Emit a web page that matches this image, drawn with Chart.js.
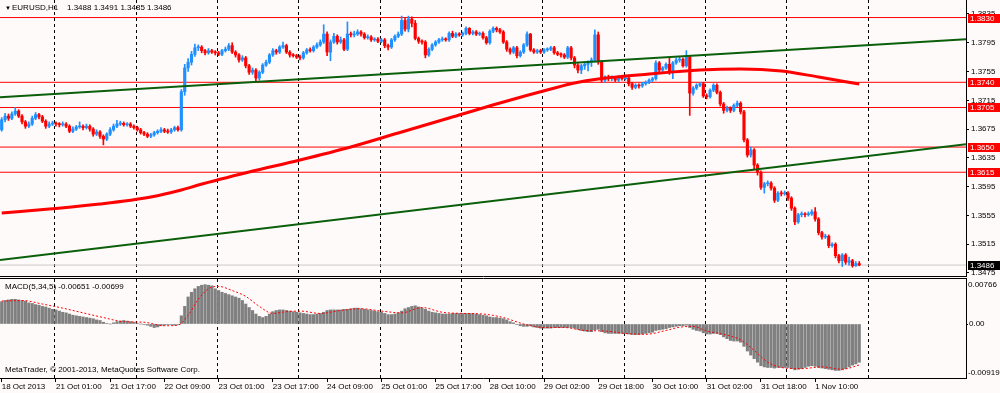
<!DOCTYPE html>
<html><head><meta charset="utf-8">
<script src="https://cdn.jsdelivr.net/npm/chart.js@4.4.0/dist/chart.umd.min.js"></script>
<style>
html,body{margin:0;padding:0;background:#fffafa;}
#wrap{position:relative;width:1000px;height:393px;overflow:hidden;background:#fffafa;font-family:'Liberation Sans',Arial,sans-serif;}
canvas{position:absolute;left:0;}
#c1{top:0}
#c2{top:277px}
.lbl{position:absolute;font-size:8px;color:#000;white-space:pre;line-height:10px;}
</style></head><body>
<div id="wrap">
<canvas id="c1" width="1000" height="277"></canvas>
<canvas id="c2" width="1000" height="116"></canvas>
<div class="lbl" style="left:5px;top:4px;font-size:6px;line-height:8px">▼</div>
<div class="lbl" style="left:12px;top:3px">EURUSD,H1</div>
<div class="lbl" style="left:67px;top:3px">1.3488 1.3491 1.3485 1.3486</div>
<div class="lbl" style="left:5px;top:282px">MACD(5,34,5) -0.00651 -0.00699</div>
<div class="lbl" style="left:5px;top:365px">MetaTrader, © 2001-2013, MetaQuotes Software Corp.</div>
</div>
<script>
// ---------- DATA ----------
const xTickBars = [0,16,32,48,64,80,96,112,128,144,160,176,192,208,224,240];
const xTickLabels = ["18 Oct 2013","21 Oct 01:00","21 Oct 17:00","22 Oct 09:00","23 Oct 01:00","23 Oct 17:00","24 Oct 09:00","25 Oct 01:00","25 Oct 17:00","28 Oct 10:00","29 Oct 02:00","29 Oct 18:00","30 Oct 10:00","31 Oct 02:00","31 Oct 18:00","1 Nov 10:00"];
const gridBars = [15.5,39.5,63.5,87.5,111.5,135.5,159.5,183.5,207.5,231.5,255.5];
const priceTicks = [1.3475,1.3515,1.3555,1.3595,1.3635,1.3675,1.3715,1.3755,1.3795,1.3835];
const levelPrices = [1.3830,1.3740,1.3705,1.3650,1.3615];
const bidPrice = 1.3486;
const upperTrend = [[-0.5,1.37191],[284.5,1.37998]];
const lowerTrend = [[-0.5,1.34930],[284.5,1.36540]];
const maPoints = [[0,1.35583],[14,1.35639],[29,1.35708],[44,1.35806],[53,1.35903],[58,1.35972],[73,1.36153],[88,1.36320],[103,1.36501],[117,1.36695],[132,1.36904],[147,1.37113],[162,1.37307],[169,1.37390],[176,1.37446],[191,1.37515],[206,1.37571],[218,1.37585],[230,1.37557],[241,1.37474],[253,1.37376]];

const opens = [
1.3674,1.3688,1.3693,1.3690,1.3696,1.3700,1.3693,1.3685,1.3679,1.3682,
1.3690,1.3695,1.3692,1.3686,1.3679,1.3682,1.3683,1.3682,1.3681,1.3682,
1.3679,1.3672,1.3675,1.3678,1.3679,1.3677,1.3679,1.3675,1.3668,1.3671,
1.3665,1.3661,1.3668,1.3674,1.3679,1.3682,1.3683,1.3681,1.3682,1.3679,
1.3677,1.3674,1.3670,1.3668,1.3665,1.3667,1.3670,1.3672,1.3674,1.3672,
1.3671,1.3674,1.3677,1.3674,1.3727,1.3760,1.3768,1.3779,1.3788,1.3789,
1.3784,1.3781,1.3784,1.3782,1.3781,1.3779,1.3784,1.3786,1.3791,1.3782,
1.3778,1.3771,1.3774,1.3763,1.3754,1.3757,1.3746,1.3754,1.3764,1.3768,
1.3778,1.3784,1.3782,1.3789,1.3791,1.3782,1.3778,1.3777,1.3775,1.3774,
1.3781,1.3785,1.3784,1.3789,1.3792,1.3796,1.3807,1.3782,1.3796,1.3804,
1.3796,1.3799,1.3786,1.3807,1.3806,1.3807,1.3810,1.3807,1.3802,1.3803,
1.3799,1.3800,1.3797,1.3799,1.3791,1.3789,1.3799,1.3804,1.3807,1.3826,
1.3814,1.3828,1.3822,1.3801,1.3797,1.3796,1.3778,1.3786,1.3792,1.3796,
1.3799,1.3800,1.3799,1.3808,1.3804,1.3807,1.3806,1.3808,1.3815,1.3808,
1.3810,1.3807,1.3808,1.3802,1.3795,1.3811,1.3815,1.3813,1.3810,1.3796,
1.3786,1.3782,1.3788,1.3777,1.3782,1.3792,1.3807,1.3785,1.3782,1.3784,
1.3782,1.3785,1.3786,1.3788,1.3781,1.3779,1.3778,1.3775,1.3788,1.3774,
1.3764,1.3757,1.3763,1.3765,1.3768,1.3771,1.3806,1.3768,1.3743,1.3747,
1.3745,1.3746,1.3743,1.3746,1.3745,1.3746,1.3738,1.3733,1.3736,1.3735,
1.3738,1.3740,1.3743,1.3745,1.3767,1.3757,1.3760,1.3765,1.3754,1.3767,
1.3771,1.3772,1.3763,1.3775,1.3725,1.3732,1.3736,1.3738,1.3721,1.3720,
1.3729,1.3736,1.3726,1.3710,1.3701,1.3704,1.3701,1.3708,1.3711,1.3699,
1.3660,1.3639,1.3646,1.3625,1.3615,1.3594,1.3599,1.3600,1.3593,1.3576,
1.3586,1.3585,1.3586,1.3579,1.3565,1.3546,1.3556,1.3557,1.3556,1.3557,
1.3560,1.3550,1.3531,1.3525,1.3526,1.3513,1.3515,1.3499,1.3492,1.3500,
1.3490,1.3492,1.3485,1.3488];
const highs = [
1.3691,1.3697,1.3696,1.3699,1.3705,1.3702,1.3695,1.3687,1.3685,1.3693,
1.3698,1.3697,1.3694,1.3688,1.3685,1.3686,1.3685,1.3684,1.3685,1.3684,
1.3681,1.3678,1.3680,1.3685,1.3681,1.3682,1.3681,1.3677,1.3674,1.3673,
1.3667,1.3670,1.3677,1.3682,1.3687,1.3686,1.3685,1.3684,1.3684,1.3681,
1.3679,1.3676,1.3672,1.3670,1.3669,1.3672,1.3674,1.3677,1.3676,1.3675,
1.3676,1.3679,1.3679,1.3730,1.3765,1.3773,1.3783,1.3793,1.3792,1.3791,
1.3786,1.3787,1.3786,1.3784,1.3783,1.3786,1.3789,1.3794,1.3795,1.3784,
1.3780,1.3777,1.3776,1.3765,1.3760,1.3759,1.3756,1.3766,1.3771,1.3780,
1.3787,1.3786,1.3791,1.3796,1.3793,1.3784,1.3780,1.3779,1.3778,1.3783,
1.3787,1.3788,1.3791,1.3795,1.3799,1.3820,1.3810,1.3799,1.3808,1.3806,
1.3803,1.3801,1.3824,1.3810,1.3811,1.3813,1.3812,1.3809,1.3806,1.3805,
1.3802,1.3802,1.3801,1.3801,1.3793,1.3801,1.3806,1.3810,1.3832,1.3829,
1.3832,1.3831,1.3826,1.3803,1.3799,1.3798,1.3788,1.3794,1.3798,1.3801,
1.3803,1.3802,1.3810,1.3811,1.3809,1.3809,1.3810,1.3817,1.3816,1.3812,
1.3812,1.3810,1.3810,1.3804,1.3813,1.3817,1.3817,1.3815,1.3812,1.3798,
1.3788,1.3790,1.3790,1.3784,1.3794,1.3810,1.3808,1.3787,1.3786,1.3786,
1.3787,1.3788,1.3790,1.3790,1.3783,1.3781,1.3780,1.3790,1.3790,1.3776,
1.3766,1.3765,1.3768,1.3770,1.3774,1.3813,1.3810,1.3770,1.3749,1.3750,
1.3749,1.3748,1.3749,1.3749,1.3750,1.3748,1.3740,1.3738,1.3738,1.3740,
1.3742,1.3745,1.3747,1.3770,1.3769,1.3762,1.3767,1.3774,1.3769,1.3774,
1.3775,1.3774,1.3784,1.3777,1.3734,1.3738,1.3740,1.3740,1.3724,1.3731,
1.3738,1.3738,1.3728,1.3712,1.3707,1.3706,1.3710,1.3714,1.3713,1.3701,
1.3662,1.3650,1.3648,1.3627,1.3617,1.3601,1.3603,1.3602,1.3595,1.3588,
1.3589,1.3589,1.3588,1.3581,1.3567,1.3558,1.3560,1.3559,1.3560,1.3563,
1.3566,1.3552,1.3533,1.3529,1.3528,1.3517,1.3517,1.3501,1.3502,1.3502,
1.3497,1.3494,1.3491,1.3491];
const lows = [
1.3672,1.3685,1.3687,1.3688,1.3694,1.3691,1.3682,1.3676,1.3677,1.3680,
1.3688,1.3689,1.3684,1.3676,1.3677,1.3680,1.3679,1.3678,1.3679,1.3677,
1.3670,1.3670,1.3673,1.3676,1.3674,1.3675,1.3672,1.3665,1.3666,1.3662,
1.3653,1.3659,1.3666,1.3672,1.3677,1.3680,1.3679,1.3679,1.3677,1.3675,
1.3672,1.3668,1.3666,1.3663,1.3663,1.3665,1.3668,1.3670,1.3670,1.3669,
1.3669,1.3672,1.3672,1.3672,1.3722,1.3755,1.3764,1.3776,1.3784,1.3781,
1.3778,1.3779,1.3780,1.3778,1.3777,1.3777,1.3782,1.3784,1.3780,1.3775,
1.3768,1.3769,1.3760,1.3751,1.3751,1.3741,1.3743,1.3752,1.3762,1.3766,
1.3776,1.3779,1.3780,1.3787,1.3780,1.3775,1.3775,1.3773,1.3771,1.3772,
1.3779,1.3782,1.3782,1.3787,1.3790,1.3794,1.3777,1.3770,1.3794,1.3793,
1.3794,1.3784,1.3784,1.3803,1.3803,1.3805,1.3804,1.3800,1.3800,1.3797,
1.3797,1.3795,1.3795,1.3788,1.3785,1.3787,1.3797,1.3802,1.3805,1.3811,
1.3810,1.3817,1.3799,1.3794,1.3793,1.3774,1.3776,1.3784,1.3790,1.3794,
1.3797,1.3797,1.3797,1.3802,1.3802,1.3804,1.3804,1.3806,1.3806,1.3806,
1.3805,1.3805,1.3800,1.3793,1.3793,1.3809,1.3810,1.3808,1.3794,1.3783,
1.3779,1.3780,1.3774,1.3775,1.3780,1.3790,1.3783,1.3780,1.3780,1.3780,
1.3780,1.3783,1.3784,1.3779,1.3777,1.3775,1.3773,1.3773,1.3771,1.3760,
1.3753,1.3752,1.3758,1.3756,1.3762,1.3768,1.3765,1.3740,1.3740,1.3742,
1.3742,1.3741,1.3741,1.3743,1.3743,1.3735,1.3730,1.3731,1.3732,1.3733,
1.3736,1.3738,1.3741,1.3743,1.3754,1.3755,1.3758,1.3751,1.3745,1.3765,
1.3768,1.3761,1.3761,1.3694,1.3722,1.3730,1.3734,1.3719,1.3717,1.3718,
1.3727,1.3724,1.3707,1.3697,1.3699,1.3698,1.3699,1.3706,1.3696,1.3657,
1.3636,1.3636,1.3620,1.3611,1.3591,1.3586,1.3596,1.3590,1.3573,1.3574,
1.3582,1.3583,1.3576,1.3562,1.3542,1.3544,1.3553,1.3553,1.3554,1.3555,
1.3547,1.3528,1.3522,1.3523,1.3510,1.3511,1.3496,1.3489,1.3484,1.3487,
1.3486,1.3483,1.3484,1.3485];
const closes = [
1.3688,1.3693,1.3690,1.3696,1.3700,1.3693,1.3685,1.3679,1.3682,1.3690,
1.3695,1.3692,1.3686,1.3679,1.3682,1.3683,1.3682,1.3681,1.3682,1.3679,
1.3672,1.3675,1.3678,1.3679,1.3677,1.3679,1.3675,1.3668,1.3671,1.3665,
1.3661,1.3668,1.3674,1.3679,1.3682,1.3683,1.3681,1.3682,1.3679,1.3677,
1.3674,1.3670,1.3668,1.3665,1.3667,1.3670,1.3672,1.3674,1.3672,1.3671,
1.3674,1.3677,1.3674,1.3727,1.3760,1.3768,1.3779,1.3788,1.3789,1.3784,
1.3781,1.3784,1.3782,1.3781,1.3779,1.3784,1.3786,1.3791,1.3782,1.3778,
1.3771,1.3774,1.3763,1.3754,1.3757,1.3746,1.3754,1.3764,1.3768,1.3778,
1.3784,1.3782,1.3789,1.3791,1.3782,1.3778,1.3777,1.3775,1.3774,1.3781,
1.3785,1.3784,1.3789,1.3792,1.3796,1.3807,1.3782,1.3796,1.3804,1.3796,
1.3799,1.3786,1.3807,1.3806,1.3807,1.3810,1.3807,1.3802,1.3803,1.3799,
1.3800,1.3797,1.3799,1.3791,1.3789,1.3799,1.3804,1.3807,1.3826,1.3814,
1.3828,1.3822,1.3801,1.3797,1.3796,1.3778,1.3786,1.3792,1.3796,1.3799,
1.3800,1.3799,1.3808,1.3804,1.3807,1.3806,1.3808,1.3815,1.3808,1.3810,
1.3807,1.3808,1.3802,1.3795,1.3811,1.3815,1.3813,1.3810,1.3796,1.3786,
1.3782,1.3788,1.3777,1.3782,1.3792,1.3807,1.3785,1.3782,1.3784,1.3782,
1.3785,1.3786,1.3788,1.3781,1.3779,1.3778,1.3775,1.3788,1.3774,1.3764,
1.3757,1.3763,1.3765,1.3768,1.3771,1.3806,1.3768,1.3743,1.3747,1.3745,
1.3746,1.3743,1.3746,1.3745,1.3746,1.3738,1.3733,1.3736,1.3735,1.3738,
1.3740,1.3743,1.3745,1.3767,1.3757,1.3760,1.3765,1.3754,1.3767,1.3771,
1.3772,1.3763,1.3775,1.3725,1.3732,1.3736,1.3738,1.3721,1.3720,1.3729,
1.3736,1.3726,1.3710,1.3701,1.3704,1.3701,1.3708,1.3711,1.3699,1.3660,
1.3639,1.3646,1.3625,1.3615,1.3594,1.3599,1.3600,1.3593,1.3576,1.3586,
1.3585,1.3586,1.3579,1.3565,1.3546,1.3556,1.3557,1.3556,1.3557,1.3560,
1.3550,1.3531,1.3525,1.3526,1.3513,1.3515,1.3499,1.3492,1.3500,1.3490,
1.3492,1.3485,1.3488,1.3486];

const macdHist = [
0.00380,0.00400,0.00410,0.00420,0.00420,0.00410,0.00400,0.00390,0.00360,0.00350,
0.00330,0.00320,0.00300,0.00290,0.00270,0.00250,0.00240,0.00220,0.00200,0.00190,
0.00170,0.00150,0.00140,0.00130,0.00120,0.00110,0.00100,0.00090,0.00070,0.00060,
0.00030,0.00010,0.00000,0.00020,0.00040,0.00050,0.00060,0.00050,0.00040,0.00030,
0.00010,0.00000,-0.00010,-0.00020,-0.00040,-0.00060,-0.00050,-0.00030,-0.00020,-0.00010,
-0.00010,-0.00020,-0.00010,0.00140,0.00300,0.00460,0.00540,0.00600,0.00640,0.00660,
0.00670,0.00660,0.00650,0.00600,0.00570,0.00540,0.00520,0.00500,0.00480,0.00460,
0.00440,0.00400,0.00340,0.00280,0.00230,0.00170,0.00130,0.00110,0.00130,0.00170,
0.00210,0.00230,0.00240,0.00240,0.00230,0.00220,0.00210,0.00200,0.00190,0.00180,
0.00170,0.00160,0.00160,0.00170,0.00180,0.00200,0.00230,0.00240,0.00240,0.00240,
0.00240,0.00250,0.00250,0.00260,0.00270,0.00270,0.00260,0.00250,0.00240,0.00230,
0.00220,0.00210,0.00200,0.00180,0.00160,0.00160,0.00170,0.00190,0.00220,0.00260,
0.00280,0.00300,0.00310,0.00290,0.00270,0.00250,0.00220,0.00200,0.00190,0.00180,
0.00170,0.00170,0.00170,0.00180,0.00180,0.00180,0.00180,0.00180,0.00180,0.00180,
0.00170,0.00160,0.00150,0.00140,0.00120,0.00110,0.00110,0.00100,0.00090,0.00070,
0.00040,0.00020,-0.00010,-0.00030,-0.00040,-0.00040,-0.00030,-0.00050,-0.00060,-0.00070,
-0.00070,-0.00070,-0.00070,-0.00060,-0.00060,-0.00060,-0.00060,-0.00060,-0.00060,-0.00070,
-0.00090,-0.00110,-0.00120,-0.00130,-0.00130,-0.00100,-0.00090,-0.00130,-0.00150,-0.00160,
-0.00160,-0.00160,-0.00160,-0.00160,-0.00160,-0.00170,-0.00180,-0.00180,-0.00180,-0.00170,
-0.00160,-0.00150,-0.00140,-0.00110,-0.00100,-0.00090,-0.00080,-0.00060,-0.00050,-0.00040,
-0.00030,-0.00030,-0.00020,-0.00060,-0.00090,-0.00110,-0.00120,-0.00150,-0.00170,-0.00170,
-0.00160,-0.00160,-0.00180,-0.00220,-0.00250,-0.00280,-0.00290,-0.00290,-0.00310,-0.00380,
-0.00460,-0.00530,-0.00590,-0.00650,-0.00710,-0.00730,-0.00740,-0.00740,-0.00750,-0.00740,
-0.00740,-0.00740,-0.00740,-0.00760,-0.00780,-0.00770,-0.00760,-0.00740,-0.00720,-0.00710,
-0.00720,-0.00740,-0.00750,-0.00760,-0.00770,-0.00780,-0.00790,-0.00790,-0.00780,-0.00760,
-0.00730,-0.00700,-0.00680,-0.00651];
const macdSignal = [[0,0.0039],[6,0.0040],[12,0.0034],[18,0.0027],[24,0.0019],[30,0.0011],[36,0.0004],[42,0.0003],[48,-0.0003],[52,-0.0002],[55,0.0015],[58,0.0042],[61,0.0060],[64,0.0064],[68,0.0057],[72,0.0047],[76,0.0030],[80,0.0018],[84,0.0021],[88,0.0022],[94,0.0018],[100,0.0023],[106,0.0026],[112,0.0022],[118,0.0019],[124,0.0028],[130,0.0020],[136,0.0018],[142,0.0017],[148,0.0011],[154,0.0000],[160,-0.0006],[166,-0.0006],[172,-0.0011],[178,-0.0012],[184,-0.0016],[190,-0.00175],[196,-0.0011],[200,-0.00055],[204,-0.0004],[208,-0.0012],[214,-0.0019],[218,-0.0027],[222,-0.0045],[226,-0.0065],[230,-0.0074],[236,-0.0076],[242,-0.0073],[248,-0.0077],[253,-0.00699]];
const macdMax = 0.00766, macdMin = -0.00919;

// ---------- STYLE / CONFIG ----------
const X_MIN = -0.5, X_MAX = 284.5;
const BULL = '#1e90ff', BEAR = '#ff0000';
const FONT = {family:"'Liberation Sans', Arial, sans-serif", size:8};
Chart.defaults.font = FONT;
Chart.defaults.color = '#000';

const candleColors = closes.map((c,i)=> c >= opens[i] ? BULL : BEAR);

const vgrid = {id:'vgrid', beforeDatasetsDraw(chart){
  const {ctx, chartArea:a} = chart; const x = chart.scales.x;
  ctx.save(); ctx.beginPath(); ctx.rect(a.left,a.top,a.right-a.left,a.bottom-a.top); ctx.clip();
  ctx.strokeStyle='#000'; ctx.lineWidth=1; ctx.setLineDash([3,3]);
  gridBars.forEach(b=>{const px=Math.round(x.getPixelForValue(b))+0.5; ctx.beginPath(); ctx.moveTo(px,a.top); ctx.lineTo(px,a.bottom); ctx.stroke();});
  ctx.restore();
}};
const frameMain = {id:'frameMain', afterDraw(chart){
  const {ctx, chartArea:a} = chart; const y = chart.scales.y;
  ctx.save();
  ctx.strokeStyle='#000'; ctx.lineWidth=1;
  ctx.beginPath(); ctx.moveTo(0,a.bottom+0.5); ctx.lineTo(a.right+1,a.bottom+0.5); ctx.stroke();
  ctx.font = "8px 'Liberation Sans', Arial, sans-serif"; ctx.textBaseline='middle'; ctx.textAlign='left';
  levelPrices.forEach(p=>{ const py=Math.round(y.getPixelForValue(p));
    ctx.fillStyle='#ff0000'; ctx.fillRect(a.right+2, py-4, 32, 9);
    ctx.fillStyle='#fff'; ctx.fillText(p.toFixed(4), a.right+4, py+0.5); });
  const by=Math.round(y.getPixelForValue(bidPrice));
  ctx.fillStyle='#000'; ctx.fillRect(a.right+2, by-4, 32, 9);
  ctx.fillStyle='#fff'; ctx.fillText(bidPrice.toFixed(4), a.right+4, by+0.5);
  ctx.restore();
}};
const frameMacd = {id:'frameMacd', afterDraw(chart){
  const {ctx, chartArea:a} = chart;
  ctx.save(); ctx.strokeStyle='#000'; ctx.lineWidth=1;
  ctx.beginPath(); ctx.moveTo(0,a.top-0.5); ctx.lineTo(a.right+1,a.top-0.5); ctx.stroke();
  ctx.fillStyle='#000'; ctx.font="8px 'Liberation Sans', Arial, sans-serif"; ctx.textAlign='left';
  ctx.textBaseline='top'; ctx.fillText(macdMax.toFixed(5), a.right+2, a.top+2);
  ctx.textBaseline='bottom'; ctx.fillText(macdMin.toFixed(5), a.right+2, a.bottom-1);
  ctx.restore();
}};

const lineDs = (pts, color, width, order, extra) => Object.assign({
  type:'line', data: pts.map(p=>({x:p[0], y:p[1]})), borderColor: color, borderWidth: width,
  pointRadius:0, fill:false, order: order}, extra||{});

const mainDatasets = [];
levelPrices.forEach(p=> mainDatasets.push(lineDs([[X_MIN,p],[X_MAX,p]], '#ff0000', 1, 30)));
mainDatasets.push(lineDs([[X_MIN,bidPrice],[X_MAX,bidPrice]], '#c8c8c8', 1, 31));
mainDatasets.push({type:'bar', data: closes.map((c,i)=>({x:i, y:[lows[i], highs[i]]})),
  backgroundColor: candleColors, barThickness:1, grouped:false, order:11, minBarLength:1});
mainDatasets.push({type:'bar', data: closes.map((c,i)=>({x:i, y:[opens[i], c]})),
  backgroundColor: candleColors, barThickness:2.5, grouped:false, order:10, minBarLength:1});
mainDatasets.push(lineDs(upperTrend, '#0a5f0a', 2, 2));
mainDatasets.push(lineDs(lowerTrend, '#0a5f0a', 2, 2));
mainDatasets.push(lineDs(maPoints, '#ff0000', 3, 1, {tension:0.4, cubicInterpolationMode:'monotone'}));

new Chart(document.getElementById('c1'), {
  type:'bar',
  data:{datasets: mainDatasets},
  options:{
    responsive:false, animation:false, events:[],
    layout:{padding:{left:0,right:0,top:0,bottom:1}},
    plugins:{legend:{display:false}, tooltip:{enabled:false}},
    scales:{
      x:{type:'linear', min:X_MIN, max:X_MAX, display:false, offset:false, bounds:'data'},
      y:{position:'right', min:1.34708, max:1.38544, bounds:'data',
        afterBuildTicks: s => { s.ticks = priceTicks.map(v=>({value:v})); },
        afterFit: s => { s.width = 34; s.paddingTop = 0; s.paddingBottom = 0; },
        ticks:{callback: v => Number(v).toFixed(4), padding:2, color:'#000', font:FONT},
        grid:{drawOnChartArea:false, drawTicks:true, tickLength:3, color:'#000'},
        border:{display:true, color:'#000'}}
    }
  },
  plugins:[vgrid, frameMain]
});

new Chart(document.getElementById('c2'), {
  type:'bar',
  data:{datasets:[
    lineDs(macdSignal, '#ff0000', 1, 0, {borderDash:[2,2], tension:0.4, cubicInterpolationMode:'monotone'}),
    {type:'bar', data: macdHist.map((v,i)=>({x:i, y:v})), backgroundColor:'#808080',
      barThickness:2.5, grouped:false, order:5}
  ]},
  options:{
    responsive:false, animation:false, events:[],
    layout:{padding:{left:0,right:0,top:2,bottom:0}},
    plugins:{legend:{display:false}, tooltip:{enabled:false}},
    scales:{
      x:{type:'linear', min:X_MIN, max:X_MAX, offset:false, bounds:'data', position:'bottom',
        afterBuildTicks: s => { s.ticks = xTickBars.map(v=>({value:v})); },
        afterFit: s => { s.height = 15; s.paddingLeft = 0; s.paddingRight = 0; },
        ticks:{callback: (v,i) => xTickLabels[i], align:'start', maxRotation:0, minRotation:0, autoSkip:false, padding:0, color:'#000', font:FONT},
        grid:{drawOnChartArea:false, drawTicks:true, tickLength:4, color:'#000', offset:false},
        border:{display:true, color:'#000'}},
      y:{position:'right', min:macdMin, max:macdMax, bounds:'data',
        afterBuildTicks: s => { s.ticks = [{value:0}]; },
        afterFit: s => { s.width = 34; s.paddingTop = 0; s.paddingBottom = 0; },
        ticks:{callback: v => Number(v).toFixed(2), padding:1, color:'#000', font:FONT},
        grid:{drawOnChartArea:false, drawTicks:true, tickLength:2, color:'#000'},
        border:{display:true, color:'#000'}}
    }
  },
  plugins:[vgrid, frameMacd]
});
</script>
</body></html>
